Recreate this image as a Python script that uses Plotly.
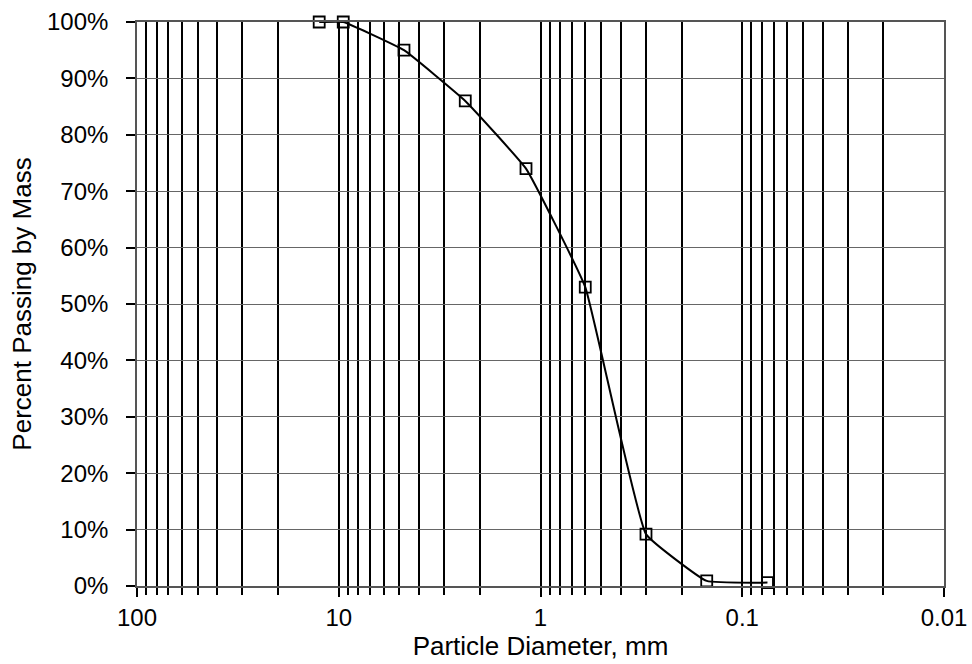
import plotly.graph_objects as go

# Data
diameter_mm = [12.5, 9.5, 4.75, 2.36, 1.18, 0.6, 0.3, 0.15, 0.075]
percent_passing = [100, 100, 95, 86, 74, 53, 9.2, 0.9, 0.6]

major_ticks = [100, 10, 1, 0.1, 0.01]
major_labels = ["100", "10", "1", "0.1", "0.01"]
minor_ticks = [m * 10.0 ** e for e in range(-2, 2) for m in range(2, 10)]
y_ticks = list(range(0, 101, 10))
y_labels = [f"{v}%" for v in y_ticks]

fig = go.Figure()
fig.add_trace(go.Scatter(
    x=diameter_mm, y=percent_passing,
    mode="lines+markers",
    line=dict(color="black", width=2, shape="spline", smoothing=0.3),
    marker=dict(symbol="square-open", size=11, color="black", line=dict(width=1.8)),
    showlegend=False,
    cliponaxis=False,
))

font = dict(family="Liberation Sans, Arial, sans-serif", size=24, color="black")
tfont = dict(family="Liberation Sans, Arial, sans-serif", size=26, color="black")

fig.update_layout(
    width=972, height=664,
    margin=dict(l=137, r=28, t=22, b=78),
    paper_bgcolor="white", plot_bgcolor="white",
    font=font,
    xaxis=dict(
        type="log", range=[2, -2], automargin=False,
        tickmode="array", tickvals=major_ticks, ticktext=major_labels,
        ticks="outside", ticklen=9, tickwidth=1.6, tickcolor="#000",
        showgrid=True, gridcolor="#000", gridwidth=1.5,
        showline=True, linecolor="#555", linewidth=1.6, mirror=True,
        zeroline=False,
        minor=dict(tickmode="array", tickvals=minor_ticks, ticks="outside",
                   ticklen=7, tickwidth=1.5, tickcolor="#000",
                   showgrid=True, gridcolor="#000", gridwidth=1.5),
        tickfont=font,
        title=dict(text="Particle Diameter, mm", font=tfont, standoff=4),
    ),
    yaxis=dict(
        range=[0, 100], automargin=False,
        tickmode="array", tickvals=y_ticks, ticktext=y_labels,
        ticks="outside", ticklen=9, tickwidth=1.6, tickcolor="#000",
        ticklabelstandoff=13,
        showgrid=True, gridcolor="#666", gridwidth=1.4,
        showline=True, linecolor="#555", linewidth=1.6, mirror=True,
        zeroline=False,
        tickfont=font,
        title=dict(text="Percent Passing by Mass", font=tfont, standoff=8),
    ),
)

fig.write_html("out.html", config={"displayModeBar": False},
               post_script="document.body.style.margin='0px';")
